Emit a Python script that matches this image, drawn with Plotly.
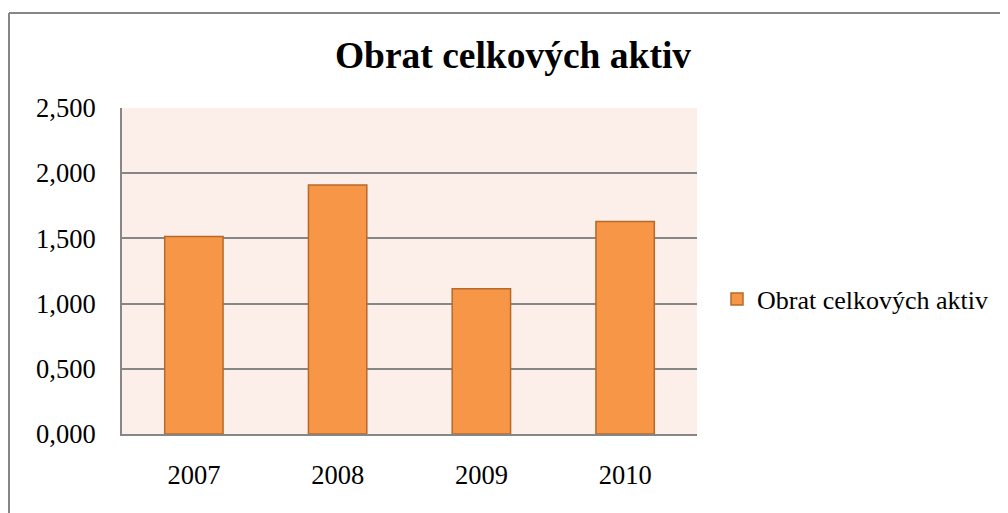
import plotly.graph_objects as go

years = ["2007", "2008", "2009", "2010"]
values = [1.515, 1.910, 1.114, 1.629]
series_name = "Obrat celkových aktiv"
title_text = "Obrat celkových aktiv"

# The page body has an 8px margin, so the figure starts at (8, 8) on the page.
OFF = 8
W, H = 1008 - OFF, 513 - OFF
# plot area in page pixels
PL, PR, PT, PB = 122, 697, 108, 434
L, R, T, B = PL - OFF, PR - OFF, PT - OFF, PB - OFF

fig = go.Figure()
fig.add_trace(go.Bar(
    x=years, y=values, name=series_name,
    marker=dict(color="#F79646", line=dict(color="#B5692C", width=1.5)),
    width=0.406,
    showlegend=True,
))

font_family = "Liberation Serif, Times New Roman, serif"

def px_to_paper_x(px):
    return (px - OFF - L) / (R - L)

def px_to_paper_y(py):
    return (B - (py - OFF)) / (B - T)

fig.update_layout(
    width=W, height=H,
    margin=dict(l=L, r=W - R, t=T, b=H - B, pad=0),
    paper_bgcolor="white",
    plot_bgcolor="#FCEEE9",
    separators=", ",
    font=dict(family=font_family, size=26.5, color="black"),
    title=dict(text=f"<b>{title_text}</b>", x=(513 - OFF) / W, xanchor="center",
               y=1 - (55 - OFF) / H, yanchor="middle",
               font=dict(family=font_family, size=37.5, color="black")),
    showlegend=True,
    legend=dict(x=px_to_paper_x(717), xanchor="left", y=px_to_paper_y(299), yanchor="middle",
                font=dict(family=font_family, size=26, color="black"),
                bgcolor="rgba(0,0,0,0)", itemwidth=30),
    xaxis=dict(showline=True, linecolor="#868686", linewidth=2, ticks="",
               showgrid=False, zeroline=False, ticklabelstandoff=16,
               tickfont=dict(family=font_family, size=26.5, color="black")),
    yaxis=dict(range=[0, 2.5], dtick=0.5, tick0=0, tickformat=".3f",
               showline=True, linecolor="#868686", linewidth=2, ticks="",
               showgrid=True, gridcolor="#868686", gridwidth=2, zeroline=False,
               ticklabelstandoff=19,
               tickfont=dict(family=font_family, size=26.5, color="black")),
    bargap=0.5,
    shapes=[
        dict(type="line", xref="paper", yref="paper",
             x0=px_to_paper_x(9), x1=px_to_paper_x(1010),
             y0=px_to_paper_y(13), y1=px_to_paper_y(13),
             line=dict(color="#868686", width=2)),
        dict(type="line", xref="paper", yref="paper",
             x0=px_to_paper_x(9), x1=px_to_paper_x(9),
             y0=px_to_paper_y(13), y1=px_to_paper_y(515),
             line=dict(color="#868686", width=2)),
    ],
)

fig.write_html("out.html")
